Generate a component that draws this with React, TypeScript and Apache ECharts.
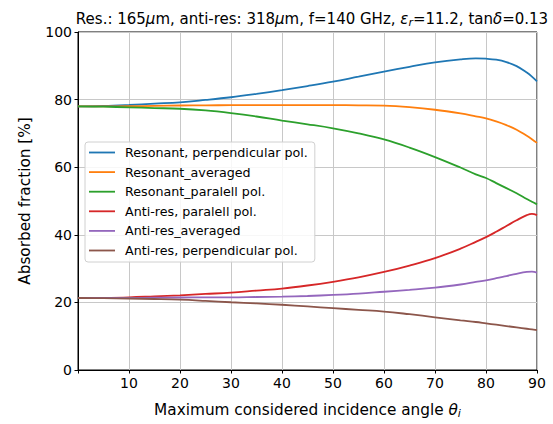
import React, { useEffect, useRef } from "react";
import * as echarts from "echarts";

const angles = [0, 5, 10, 15, 20, 25, 30, 35, 40, 45, 50, 55, 60, 65, 70, 75, 78, 80, 82, 84, 86, 88, 89, 90];

const resPerp = [78.0, 78.1, 78.4, 78.8, 79.2, 79.9, 80.7, 81.7, 82.8, 84.0, 85.3, 86.8, 88.3, 89.7, 91.0, 91.9, 92.2, 92.1, 91.8, 91.1, 89.9, 88.0, 86.8, 85.4];
const resAvg = [78.0, 78.0, 78.05, 78.15, 78.25, 78.3, 78.35, 78.35, 78.35, 78.35, 78.35, 78.3, 78.2, 77.75, 77.0, 75.9, 75.05, 74.45, 73.55, 72.45, 71.1, 69.3, 68.3, 67.2];
const resPar = [78.0, 77.9, 77.7, 77.5, 77.3, 76.8, 76.0, 75.0, 73.8, 72.7, 71.5, 70.0, 68.2, 65.8, 63.0, 59.9, 57.9, 56.8, 55.3, 53.8, 52.3, 50.6, 49.8, 49.0];
const antiPar = [21.3, 21.35, 21.5, 21.8, 22.1, 22.5, 22.9, 23.5, 24.1, 25.0, 26.1, 27.4, 29.0, 30.9, 33.1, 35.9, 37.9, 39.3, 40.9, 42.6, 44.3, 45.8, 46.2, 45.8];
const antiAvg = [21.3, 21.3, 21.33, 21.4, 21.45, 21.5, 21.5, 21.6, 21.7, 21.9, 22.2, 22.6, 23.15, 23.7, 24.35, 25.3, 26.05, 26.55, 27.15, 27.8, 28.45, 29.0, 29.1, 28.8];
const antiPerp = [21.3, 21.25, 21.15, 21.0, 20.8, 20.45, 20.05, 19.7, 19.3, 18.8, 18.3, 17.8, 17.3, 16.5, 15.6, 14.7, 14.2, 13.8, 13.4, 13.0, 12.6, 12.2, 12.0, 11.8];

const seriesNames = [
  "Resonant, perpendicular pol.",
  "Resonant_averaged",
  "Resonant_paralell pol.",
  "Anti-res, paralell pol.",
  "Anti-res_averaged",
  "Anti-res, perpendicular pol.",
];
const seriesValues = [resPerp, resAvg, resPar, antiPar, antiAvg, antiPerp];
const colors = ["#1f77b4", "#ff7f0e", "#2ca02c", "#d62728", "#9467bd", "#8c564b"];

const FONT = "DejaVu Sans";
const LINE_ICON = "path://M0,0 L100,0 L100,7 L0,7 Z";

export default function App() {
  const ref = useRef<HTMLDivElement>(null);
  useEffect(() => {
    if (!ref.current) return;
    const chart = echarts.init(ref.current, null, { renderer: "svg" });
    const richLabel = (size: number) => ({
      i: { fontFamily: FONT, fontSize: size, fontStyle: "italic", color: "#000" },
      sub: {
        fontFamily: FONT,
        fontSize: Math.round(size * 0.7),
        fontStyle: "italic",
        color: "#000",
        verticalAlign: "bottom",
        padding: [7, 0, 0, 0],
      },
    });
    chart.setOption({
      animation: false,
      textStyle: { fontFamily: FONT },
      title: {
        text: "Res.: 165{i|μ}m, anti-res: 318{i|μ}m, f=140 GHz, {i|ε}{sub|r}=11.2, tan{i|δ}=0.13",
        left: 307,
        textAlign: "center",
        top: 5,
        textStyle: {
          fontFamily: FONT,
          fontSize: 15,
          fontWeight: "normal",
          color: "#000",
          rich: richLabel(15),
        },
      },
      grid: {
        left: 78,
        right: 16,
        top: 32,
        bottom: 52,
        show: true,
        borderColor: "#000",
        borderWidth: 1,
        backgroundColor: "transparent",
      },
      legend: {
        orient: "vertical",
        left: 85,
        top: 142,
        data: seriesNames.map((n) => ({ name: n, icon: LINE_ICON })),
        itemWidth: 26,
        itemHeight: 15,
        itemGap: 4.6,
        padding: [3, 7, 4, 4],
        backgroundColor: "rgba(255,255,255,0.85)",
        borderColor: "#d0d0d0",
        borderWidth: 1,
        borderRadius: 3,
        textStyle: {
          fontFamily: FONT,
          fontSize: 12.7,
          color: "#000",
          lineHeight: 15,
          padding: [0, 0, 0, 5],
        },
      },
      xAxis: {
        type: "value",
        min: 0,
        max: 90,
        interval: 10,
        name: "Maximum considered incidence angle {i|θ}{sub|i}",
        nameLocation: "middle",
        nameGap: 31,
        nameTextStyle: {
          fontFamily: FONT,
          fontSize: 15.3,
          color: "#000",
          rich: richLabel(15.3),
        },
        axisLine: { show: true, lineStyle: { color: "#000", width: 1 } },
        axisTick: { show: true, length: 3.5, lineStyle: { color: "#000" } },
        axisLabel: {
          fontFamily: FONT,
          fontSize: 14,
          color: "#000",
          margin: 6,
          formatter: (v: number) => (v === 0 ? "" : String(v)),
        },
        splitLine: { show: true, lineStyle: { color: "#c8c8c8", width: 1 } },
      },
      yAxis: {
        type: "value",
        min: 0,
        max: 100,
        interval: 20,
        name: "Absorbed fraction [%]",
        nameLocation: "middle",
        nameGap: 46,
        nameTextStyle: { fontFamily: FONT, fontSize: 15.3, color: "#000" },
        axisLine: { show: true, lineStyle: { color: "#000", width: 1 } },
        axisTick: { show: true, length: 3.5, lineStyle: { color: "#000" } },
        axisLabel: { fontFamily: FONT, fontSize: 14, color: "#000", margin: 6 },
        splitLine: { show: true, lineStyle: { color: "#c8c8c8", width: 1 } },
      },
      series: seriesNames.map((name, k) => ({
        name,
        type: "line",
        data: angles.map((a, i) => [a, seriesValues[k][i]]),
        symbol: "none",
        smooth: 0.4,
        lineStyle: { color: colors[k], width: 1.8 },
        itemStyle: { color: colors[k] },
        z: 3,
      })),
    });
    return () => chart.dispose();
  }, []);
  return <div ref={ref} style={{ width: 553, height: 424, position: "absolute", left: 0, top: 0 }} />;
}
